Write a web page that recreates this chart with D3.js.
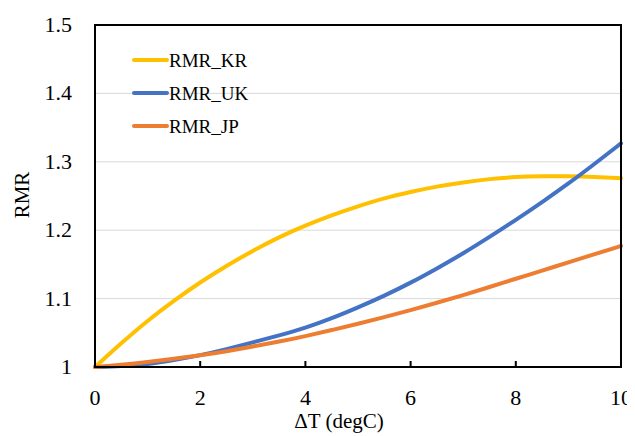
<!DOCTYPE html>
<html><head><meta charset="utf-8">
<script src="https://cdn.jsdelivr.net/npm/d3@7"></script>
</head><body>
<svg id="c" width="635" height="436"></svg>
<script>
const dT = [0,0.5,1,1.5,2,2.5,3,3.5,4,4.5,5,5.5,6,6.5,7,7.5,8,8.5,9,9.5,10];
const rmrKR = [1.000,1.035,1.068,1.097,1.124,1.148,1.170,1.190,1.207,1.222,1.235,1.247,1.256,1.264,1.270,1.275,1.278,1.279,1.279,1.278,1.276];
const rmrUK = [1.000,1.001,1.004,1.010,1.017,1.026,1.036,1.046,1.057,1.071,1.087,1.104,1.123,1.144,1.166,1.190,1.215,1.241,1.268,1.297,1.327];
const rmrJP = [1.000,1.003,1.007,1.012,1.017,1.023,1.030,1.037,1.045,1.054,1.063,1.073,1.083,1.094,1.105,1.117,1.129,1.141,1.153,1.165,1.177];
const seriesNames = ["RMR_KR","RMR_UK","RMR_JP"];
const seriesColors = ["#FFC000","#4472C4","#ED7D31"];
const xTicks = [0,2,4,6,8,10];
const yTicks = [1,1.1,1.2,1.3,1.4,1.5];
const yTickLabels = ["1","1.1","1.2","1.3","1.4","1.5"];

// compensate the default 8px body margin
const svg = d3.select("#c").append("g").attr("transform","translate(-8,-8)");
const L=95, R=621, T=25, B=367;
const x = d3.scaleLinear().domain([0,10]).range([L,R]);
const y = d3.scaleLinear().domain([1,1.5]).range([B,T]);

function txt(sel){ return sel.attr("font-family","Liberation Serif").style("font-family","Liberation Serif").attr("fill","#000"); }

// gridlines
svg.append("g").selectAll("line").data(yTicks.slice(1,-1)).join("line")
  .attr("x1",L).attr("x2",R).attr("y1",d=>y(d)).attr("y2",d=>y(d))
  .attr("stroke","#d9d9d9").attr("stroke-width",1);

// series
const all = [rmrKR, rmrUK, rmrJP];
const line = d3.line().x((d,i)=>x(dT[i])).y(d=>y(d)).curve(d3.curveBasis);
all.forEach((s,k)=>{
  svg.append("path").datum(s).attr("d",line).attr("fill","none")
    .attr("stroke",seriesColors[k]).attr("stroke-width",4).attr("stroke-linecap","round");
});

// frame
svg.append("path").attr("d",`M${L},${T}H${R}V${B}H${L}Z`)
  .attr("fill","none").attr("stroke","#000").attr("stroke-width",2);

// x ticks (inward) and labels
svg.append("g").selectAll("line").data(xTicks.filter(d=>d>0&&d<10)).join("line")
  .attr("x1",d=>x(d)).attr("x2",d=>x(d)).attr("y1",B).attr("y2",B-6)
  .attr("stroke","#000").attr("stroke-width",2);
txt(svg.append("g").selectAll("text").data(xTicks).join("text"))
  .attr("x",d=>x(d)).attr("y",B+38).attr("text-anchor","middle").attr("font-size",22)
  .text(d=>String(d));

// y labels
txt(svg.append("g").selectAll("text").data(yTicks).join("text"))
  .attr("x",L-23).attr("y",d=>y(d)+7).attr("text-anchor","end").attr("font-size",22)
  .text((d,i)=>yTickLabels[i]);

// axis titles
txt(svg.append("text")).attr("x",339).attr("y",428).attr("text-anchor","middle")
  .attr("font-size",21).text("ΔT (degC)");
txt(svg.append("text")).attr("transform","translate(29,195) rotate(-90)").attr("text-anchor","middle")
  .attr("font-size",21).text("RMR");

// legend
const legY = [60,93,126];
seriesNames.forEach((n,k)=>{
  svg.append("line").attr("x1",134).attr("x2",167).attr("y1",legY[k]).attr("y2",legY[k])
    .attr("stroke",seriesColors[k]).attr("stroke-width",4).attr("stroke-linecap","round");
  txt(svg.append("text")).attr("x",169).attr("y",legY[k]+7)
    .attr("font-size",19).text(n);
});
</script>
</body></html>
